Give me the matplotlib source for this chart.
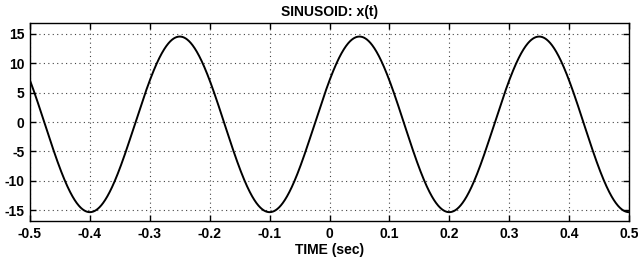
import numpy as np
import matplotlib
matplotlib.use("Agg")
import matplotlib.pyplot as plt

# Sinusoid parameters
amplitude = 14.9          # half peak-to-peak
offset = -0.4             # slight negative mean (troughs below -15, peaks below 15)
period = 0.3              # seconds between peaks (peaks at -0.25, 0.05, 0.35)
peak_time = 0.05          # time of a positive peak
t_start, t_end = -0.5, 0.5

xticks = [-0.5, -0.4, -0.3, -0.2, -0.1, 0, 0.1, 0.2, 0.3, 0.4, 0.5]
xtick_labels = ["-0.5", "-0.4", "-0.3", "-0.2", "-0.1", "0", "0.1", "0.2", "0.3", "0.4", "0.5"]
yticks = [-15, -10, -5, 0, 5, 10, 15]
ytick_labels = ["-15", "-10", "-5", "0", "5", "10", "15"]

t = np.linspace(t_start, t_end, 2001)
x = offset + amplitude * np.cos(2 * np.pi * (t - peak_time) / period)

plt.rcParams['font.family'] = ['Liberation Sans', 'DejaVu Sans']
fig = plt.figure(figsize=(6.38, 2.64), dpi=100)
ax = fig.add_axes([30/638, 1 - 221/264, 599/638, 198/264])
ax.plot(t, x, color='black', lw=1.4)
ax.set_xlim(t_start, t_end)
ax.set_ylim(-16.8, 16.8)
ax.set_xticks(xticks)
ax.set_xticklabels(xtick_labels)
ax.set_yticks(yticks)
ax.set_yticklabels(ytick_labels)
ax.grid(True, linestyle=(0, (1, 3)), color='#444444', lw=0.8)
ax.tick_params(direction='in', top=True, right=True, length=4, width=1,
               labelsize=10, pad=4)
for lab in ax.get_xticklabels() + ax.get_yticklabels():
    lab.set_fontweight('bold')
for s in ax.spines.values():
    s.set_linewidth(1.0)
ax.set_title("SINUSOID: x(t)", fontsize=10, fontweight='bold', pad=5)
ax.set_xlabel("TIME (sec)", fontsize=10, fontweight='bold', labelpad=2)
fig.savefig("out.png", dpi=100)
